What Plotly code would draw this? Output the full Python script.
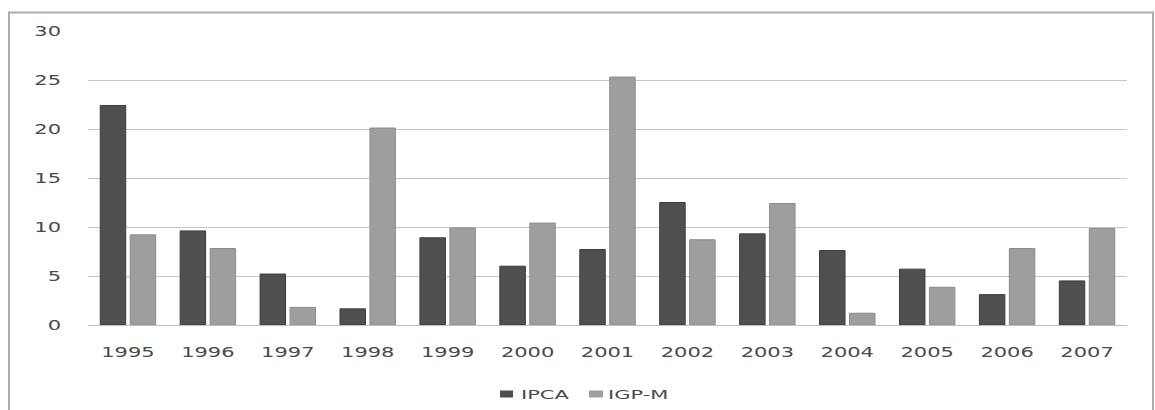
import plotly.graph_objects as go

# Annual inflation by index (%)
years = ["1995", "1996", "1997", "1998", "1999", "2000", "2001",
         "2002", "2003", "2004", "2005", "2006", "2007"]
ipca = [22.4, 9.6, 5.2, 1.65, 8.9, 6.0, 7.7, 12.5, 9.3, 7.6, 5.7, 3.1, 4.5]
igpm = [9.2, 7.8, 1.8, 20.1, 9.9, 10.4, 25.3, 8.7, 12.4, 1.2, 3.85, 7.8, 9.85]

series_names = ["IPCA", "IGP-M"]
series_colors = ["#4f4f4f", "#9e9e9e"]
series_edges = ["#3c3c3c", "#8c8c8c"]

y_ticks = [0, 5, 10, 15, 20, 25, 30]

W, H = 1155, 410
ML, MR, MT, MB = 88, 28, 31, 85
PW, PH = W - ML - MR, H - MT - MB


def px_x(px):
    return (px - ML) / PW


def px_y(py):
    return (H - MB - py) / PH


fig = go.Figure()
for name, vals, col, edge in zip(series_names, [ipca, igpm], series_colors, series_edges):
    fig.add_trace(go.Bar(
        name=name, x=years, y=vals,
        marker=dict(color=col, line=dict(color=edge, width=1)),
    ))

text_color = "#4a4a4a"

# hand-placed legend below the plot
legend_boxes = [(500, 513), (589, 603)]
legend_text_x = [520, 607]
shapes = [
    # outer chart frame, open at the bottom edge of the page
    dict(type="rect", xref="paper", yref="paper",
         x0=px_x(9), x1=px_x(1153), y0=px_y(420), y1=px_y(12.5),
         line=dict(color="#ababab", width=2), layer="below"),
]
annotations = []
for (bx0, bx1), tx, name, col in zip(legend_boxes, legend_text_x, series_names, series_colors):
    shapes.append(dict(type="rect", xref="paper", yref="paper",
                       x0=px_x(bx0), x1=px_x(bx1), y0=px_y(397.5), y1=px_y(390.5),
                       line=dict(width=0), fillcolor=col))
    annotations.append(dict(xref="paper", yref="paper", x=px_x(tx), y=px_y(394.5),
                            xanchor="left", yanchor="middle", text=name,
                            showarrow=False, borderpad=0,
                            font=dict(size=12, color=text_color)))

fig.update_layout(
    width=W, height=H,
    margin=dict(l=ML, r=MR, t=MT, b=MB),
    paper_bgcolor="white", plot_bgcolor="white",
    barmode="group", bargap=0.25, bargroupgap=0.15,
    font=dict(family="DejaVu Sans", size=14, color=text_color),
    showlegend=False,
    xaxis=dict(
        showgrid=False, showline=False, ticks="", ticklabelstandoff=17,
        tickfont=dict(size=14, color=text_color), automargin=False,
    ),
    yaxis=dict(
        range=[0, 30], tickvals=y_ticks, ticktext=[str(v) for v in y_ticks],
        showgrid=True, gridcolor="#c8c8c8", gridwidth=1,
        zeroline=True, zerolinecolor="#c0c0c0", zerolinewidth=1,
        showline=False, ticks="", ticklabelstandoff=26,
        tickfont=dict(size=14, color=text_color), automargin=False,
    ),
    shapes=shapes,
    annotations=annotations,
)

# widen the label glyphs horizontally, keeping each label's anchor point fixed
post = """
function widen(sel, sx, anchor){
  document.querySelectorAll(sel).forEach(function(t){
    var b = t.getBBox();
    var cx = anchor === 'end' ? b.x + b.width : (anchor === 'start' ? b.x : b.x + b.width / 2);
    var cy = b.y + b.height / 2;
    var orig = t.getAttribute('transform') || '';
    t.setAttribute('transform', orig + ' translate(' + cx + ',' + cy + ') scale(' + sx + ',1) translate(' + (-cx) + ',' + (-cy) + ')');
  });
}
widen('.xtick text', 1.5, 'middle');
widen('.ytick text', 1.5, 'end');
widen('.annotation-text', 1.75, 'start');
"""

fig.write_html("out.html", post_script=post)
